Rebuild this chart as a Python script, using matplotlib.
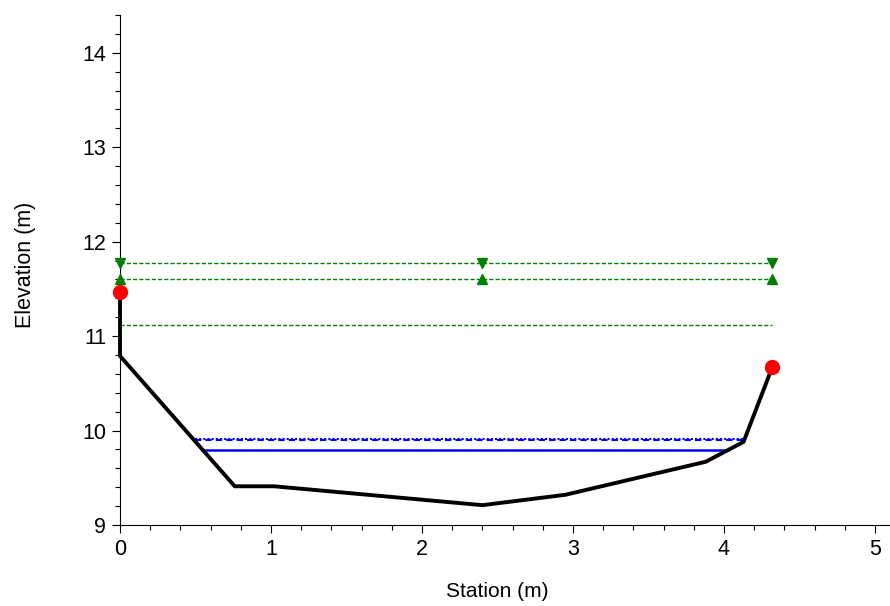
import matplotlib
matplotlib.use("Agg")
import matplotlib.pyplot as plt
from matplotlib.ticker import MultipleLocator

# ground profile
station = [0.0, 0.0, 0.76, 1.02, 2.40, 2.95, 3.88, 4.13, 4.32]
elev = [11.47, 10.79, 9.41, 9.41, 9.21, 9.32, 9.67, 9.88, 10.67]

# bank points
bank_x = [0.0, 4.32]
bank_y = [11.47, 10.67]

# green reference levels
green_x = [0.0, 2.40, 4.32]
green_down = 11.77
green_up = 11.61
green_plain = 11.12

# water levels
ws_x = [0.545, 4.03]
ws_y = 9.79
dot_x = [0.50, 4.13]
dot_y = 9.915
dash_y = 9.895

plt.rcParams['font.family'] = ['Liberation Sans', 'DejaVu Sans']
GREEN = '#008000'

fig = plt.figure(figsize=(8.9, 6.06), dpi=100)
ax = fig.add_axes([120/890, 1 - 525/606, 770/890, 510/606])

# green lines
for lvl in [green_down, green_up, green_plain]:
    ax.plot([green_x[0], green_x[-1]], [lvl]*2, color=GREEN, lw=1.0, ls=(0, (3, 1.5)))
ax.plot(green_x, [green_down]*3, ls='none', marker='v', color=GREEN, ms=7, clip_on=False, zorder=4)
ax.plot(green_x, [green_up]*3, ls='none', marker='^', color=GREEN, ms=7, clip_on=False, zorder=4)

# water surfaces
ax.plot(dot_x, [dot_y]*2, color='blue', lw=1.5, ls=(0, (1, 1)))
ax.plot(dot_x, [dash_y]*2, color='blue', lw=1.5, ls=(0, (3, 2)))
ax.plot(ws_x, [ws_y]*2, color='blue', lw=1.8)

# ground
ax.plot(station, elev, color='black', lw=2.8, solid_joinstyle='miter', clip_on=False)
ax.plot(bank_x, bank_y, ls='none', marker='o', color='red', ms=10, clip_on=False, zorder=5)

ax.set_xlim(0, 5.1)
ax.set_ylim(9, 14.4)
ax.xaxis.set_major_locator(MultipleLocator(1))
ax.xaxis.set_minor_locator(MultipleLocator(0.2))
ax.yaxis.set_major_locator(MultipleLocator(1))
ax.yaxis.set_minor_locator(MultipleLocator(0.2))

for s in ['top', 'right']:
    ax.spines[s].set_visible(False)
for s in ['left', 'bottom']:
    ax.spines[s].set_linewidth(0.8)
ax.tick_params(which='major', length=6, width=0.8, labelsize=15.5, pad=4)
ax.tick_params(which='minor', length=3.6, width=0.8)

ax.set_xlabel('Station (m)', fontsize=15)
ax.set_ylabel('Elevation (m)', fontsize=15.5)
ax.xaxis.set_label_coords(2.5/5.1, -57/510)
ax.yaxis.set_label_coords(-84/770, (525-265)/510)

fig.savefig('out.png', dpi=100)
